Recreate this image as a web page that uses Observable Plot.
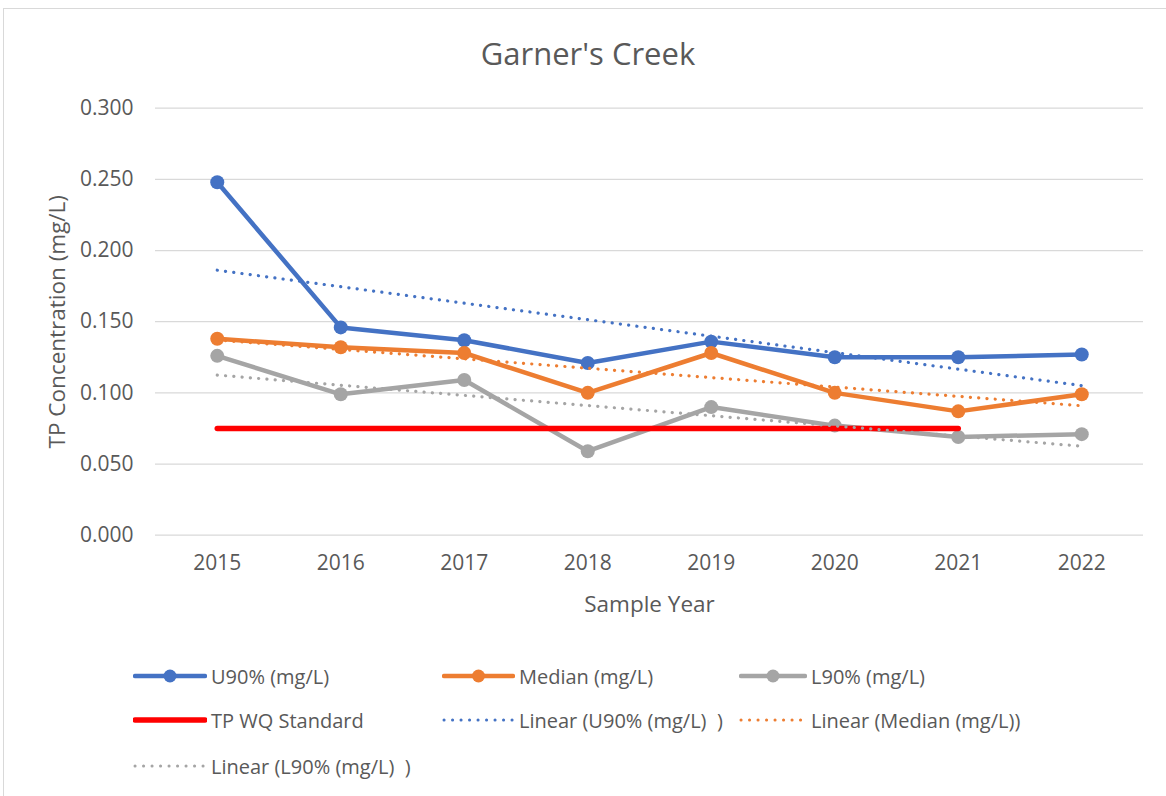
<!DOCTYPE html>
<html>
<head>
<meta charset="utf-8">
<script src="https://cdn.jsdelivr.net/npm/d3@7"></script>
<script src="https://cdn.jsdelivr.net/npm/@observablehq/plot@0.6"></script>
<style>
  html, body { margin: 0; padding: 0; background: #fff; }
  body { width: 1166px; height: 796px; overflow: hidden; position: relative; font-family: "Open Sans", sans-serif; color: #595959; }
  #frame { position: absolute; left: 3px; top: 8px; width: 1170px; height: 800px; border-left: 1.5px solid #d9d9d9; border-top: 1.5px solid #d9d9d9; pointer-events: none; }
  #title { position: relative; height: 90px; box-sizing: border-box; padding-top: 36px; font-size: 31px; line-height: 34px; text-align: center; padding-left: 10px; }
  #chart svg { display: block; }
  #legend { position: absolute; left: 0; top: 0; width: 1166px; height: 796px; pointer-events: none; }
  .item { position: absolute; display: flex; align-items: center; font-size: 20px; white-space: pre; height: 30px; }
  .item svg { margin-right: 4px; }
</style>
</head>
<body>
<div id="frame"></div>
<div id="title">Garner's Creek</div>
<div id="chart"></div>
<div id="legend"></div>
<script>
const years = [2015, 2016, 2017, 2018, 2019, 2020, 2021, 2022];
const u90 = [0.248, 0.146, 0.137, 0.121, 0.136, 0.125, 0.125, 0.127];
const median = [0.138, 0.132, 0.128, 0.100, 0.128, 0.100, 0.087, 0.099];
const l90 = [0.126, 0.099, 0.109, 0.059, 0.090, 0.077, 0.069, 0.071];
const standardYears = [2015, 2021];
const standardValue = [0.075, 0.075];
const yTicks = [0, 0.05, 0.1, 0.15, 0.2, 0.25, 0.3];

const seriesNames = ["U90% (mg/L)", "Median (mg/L)", "L90% (mg/L)"];
const seriesColors = ["#4472C4", "#ED7D31", "#A5A5A5"];
const seriesValues = [u90, median, l90];
const standardName = "TP WQ Standard";
const standardColor = "#FF0000";
const trendNames = ["Linear (U90% (mg/L)  )", "Linear (Median (mg/L))", "Linear (L90% (mg/L)  )"];

const rows = seriesValues.map((vals, i) => years.map((yr, j) => ({year: yr, value: vals[j], series: seriesNames[i], color: seriesColors[i]})));
const stdRows = standardYears.map((yr, j) => ({year: yr, value: standardValue[j]}));

const marks = [
  Plot.ruleY(yTicks, {stroke: "#d9d9d9", strokeWidth: 1.3}),
];
rows.forEach(r => {
  marks.push(Plot.line(r, {x: "year", y: "value", stroke: r[0].color, strokeWidth: 4.5, strokeLinejoin: "round", strokeLinecap: "round"}));
  marks.push(Plot.dot(r, {x: "year", y: "value", r: 7, fill: r[0].color, stroke: "none"}));
});
marks.push(Plot.line(stdRows, {x: "year", y: "value", stroke: standardColor, strokeWidth: 5.5, strokeLinecap: "round"}));
rows.forEach(r => {
  marks.push(Plot.linearRegressionY(r, {x: "year", y: "value", ci: 0, stroke: r[0].color, strokeWidth: 3.2, strokeDasharray: "0.1 8.2", strokeLinecap: "round"}));
});
marks.push(Plot.axisY(yTicks, {tickSize: 0, tickPadding: 22, tickFormat: d3.format(".3f"), fontSize: 21, fill: "#595959", label: null}));
marks.push(Plot.axisX(years, {tickSize: 0, tickPadding: 20, tickFormat: d => String(d), fontSize: 21, fill: "#595959", label: null}));
marks.push(Plot.text(["Sample Year"], {frameAnchor: "bottom", textAnchor: "middle", dy: 70, fontSize: 22.5, fill: "#595959", lineAnchor: "middle"}));
marks.push(Plot.text(["TP Concentration (mg/L)"], {frameAnchor: "left", textAnchor: "middle", dx: -98, rotate: -90, fontSize: 22.5, fill: "#595959", lineAnchor: "middle"}));

const chart = Plot.plot({
  width: 1166,
  height: 550,
  marginLeft: 155,
  marginRight: 23,
  marginTop: 17.7,
  marginBottom: 105.3,
  style: {fontFamily: "'Open Sans', sans-serif", background: "transparent", overflow: "visible"},
  x: {type: "linear", domain: [2014.5, 2022.5]},
  y: {domain: [0, 0.3]},
  marks
});
document.getElementById("chart").appendChild(chart);

// Legend (HTML)
const legendItems = [
  {name: seriesNames[0], color: seriesColors[0], kind: "marker", col: 0, row: 0},
  {name: seriesNames[1], color: seriesColors[1], kind: "marker", col: 1, row: 0},
  {name: seriesNames[2], color: seriesColors[2], kind: "marker", col: 2, row: 0},
  {name: standardName, color: standardColor, kind: "thick", col: 0, row: 1},
  {name: trendNames[0], color: seriesColors[0], kind: "dots", col: 1, row: 1},
  {name: trendNames[1], color: seriesColors[1], kind: "dots", col: 2, row: 1},
  {name: trendNames[2], color: seriesColors[2], kind: "dots", col: 0, row: 2},
];
const colX = [133, 442, 739];
const colW = [74, 73, 68];
const rowY = [676, 720, 766];
const legend = document.getElementById("legend");
legendItems.forEach(it => {
  const div = document.createElement("div");
  div.className = "item";
  div.style.left = colX[it.col] + "px";
  div.style.top = (rowY[it.row] - 15) + "px";
  const w = colW[it.col];
  let svg;
  if (it.kind === "marker") {
    svg = `<svg width="${w}" height="16"><line x1="2" y1="8" x2="${w-2}" y2="8" stroke="${it.color}" stroke-width="4.5" stroke-linecap="round"/><circle cx="${w/2}" cy="8" r="6.5" fill="${it.color}"/></svg>`;
  } else if (it.kind === "thick") {
    svg = `<svg width="${w}" height="16"><line x1="2" y1="8" x2="${w-2}" y2="8" stroke="${it.color}" stroke-width="5.5" stroke-linecap="round"/></svg>`;
  } else {
    svg = `<svg width="${w}" height="16"><line x1="2" y1="8" x2="${w-2}" y2="8" stroke="${it.color}" stroke-width="3" stroke-dasharray="0.1 8.4" stroke-linecap="round"/></svg>`;
  }
  div.innerHTML = svg + `<span>${it.name}</span>`;
  legend.appendChild(div);
});
</script>
</body>
</html>
